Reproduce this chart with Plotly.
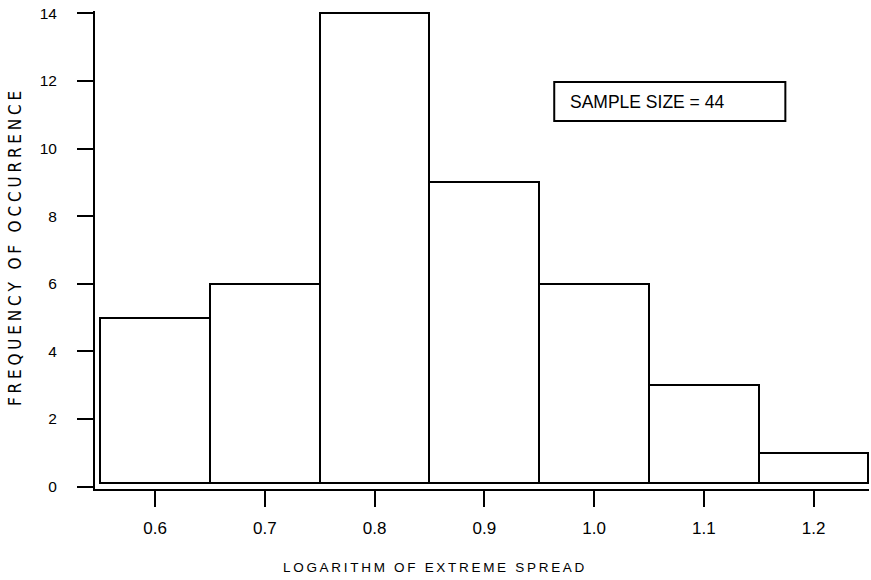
import plotly.graph_objects as go

# Data
bin_centers = [0.6, 0.7, 0.8, 0.9, 1.0, 1.1, 1.2]
frequencies = [5, 6, 14, 9, 6, 3, 1]
bin_width = 0.1
y_ticks = [0, 2, 4, 6, 8, 10, 12, 14]
x_ticks = [0.6, 0.7, 0.8, 0.9, 1.0, 1.1, 1.2]
sample_label = "SAMPLE SIZE = 44"
x_title = "LOGARITHM OF EXTREME SPREAD"
y_title = "FREQUENCY OF OCCURRENCE"

W, H = 871, 580
ML, MT = 95, 11
x_range = [0.5453, 1.2505]
y_range = [-0.07, 14.07]
px_per_y = 33.79
plot_h = (y_range[1] - y_range[0]) * px_per_y
px_per_x = 1097
plot_w = (x_range[1] - x_range[0]) * px_per_x
MR = W - ML - plot_w
MB = H - MT - plot_h


def px(xp):
    return (xp - ML) / plot_w


def py(yp):
    return (MT + plot_h - yp) / plot_h


fig = go.Figure()
fig.add_trace(go.Bar(
    x=bin_centers,
    y=[f - 0.1 for f in frequencies],
    base=0.1,
    width=bin_width,
    marker=dict(color="white", line=dict(color="black", width=2)),
    showlegend=False,
    hoverinfo="skip",
))

font = "Liberation Sans, Arial, sans-serif"

fig.update_layout(
    width=W, height=H,
    margin=dict(l=ML, r=MR, t=MT, b=MB, pad=0, autoexpand=False),
    paper_bgcolor="white", plot_bgcolor="white",
    font=dict(family=font, size=13, color="black"),
    bargap=0,
    xaxis=dict(
        range=x_range, tickvals=x_ticks, ticktext=[f"{v:.1f}" for v in x_ticks],
        showgrid=False, zeroline=False, showline=True, linecolor="black", linewidth=2,
        ticks="outside", ticklen=16, tickwidth=2, tickcolor="black", automargin=False,
        ticklabelstandoff=7, tickfont=dict(size=17, family=font),
    ),
    yaxis=dict(
        range=y_range, tickvals=y_ticks,
        showgrid=False, zeroline=False, showline=True, linecolor="black", linewidth=2,
        ticks="outside", ticklen=16, tickwidth=2, tickcolor="black", automargin=False,
        ticklabelstandoff=17, tickfont=dict(size=15.5, family=font),
    ),
    shapes=[dict(
        type="rect", xref="paper", yref="paper",
        x0=px(554), x1=px(785), y0=py(121), y1=py(82),
        line=dict(color="black", width=2), fillcolor="white", layer="above",
    )],
    annotations=[
        dict(text=sample_label, xref="paper", yref="paper", x=px(568), y=py(101.5),
             xanchor="left", yanchor="middle", showarrow=False,
             font=dict(size=17.5, family=font)),
        dict(text="\u2009".join(x_title), xref="paper", yref="paper", x=px(434), y=py(567),
             xanchor="center", yanchor="middle", showarrow=False,
             font=dict(size=13.5, family=font)),
        dict(text="\u2005".join(y_title), xref="paper", yref="paper", x=px(15), y=py(248),
             xanchor="center", yanchor="middle", showarrow=False, textangle=-90,
             font=dict(size=17, family="DejaVu Sans Condensed, DejaVu Sans, sans-serif")),
    ],
)

fig.write_html(
    "out.html",
    config={"displayModeBar": False},
    post_script="document.body.style.margin='0';document.body.style.overflow='hidden';",
)
